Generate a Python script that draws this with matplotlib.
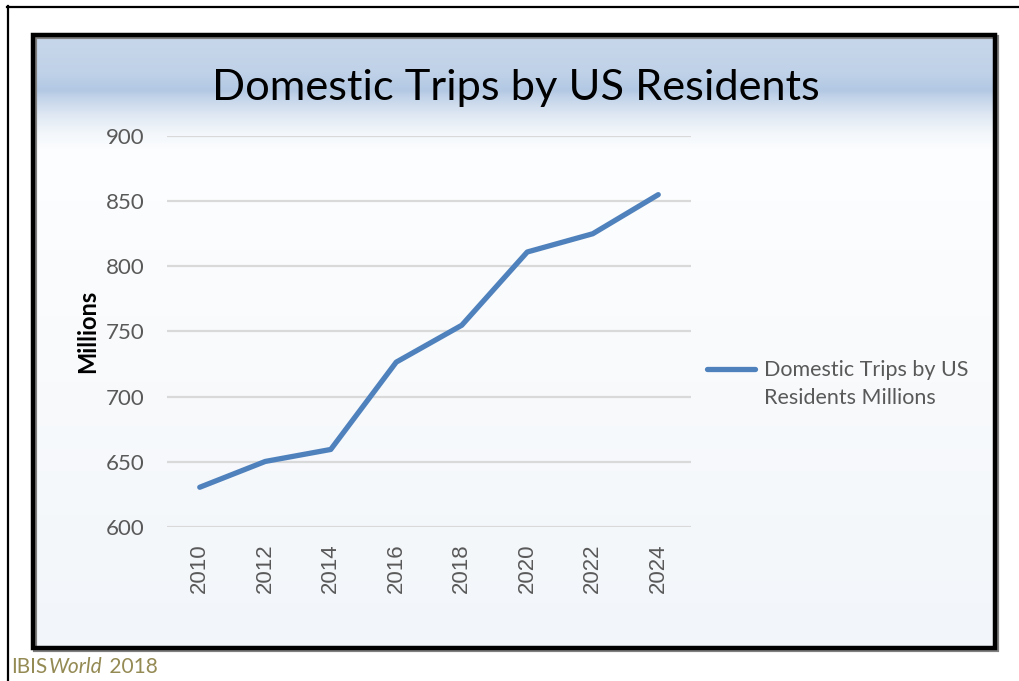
import matplotlib
matplotlib.use("Agg")
import matplotlib.pyplot as plt
import numpy as np
from matplotlib.patches import Rectangle
from matplotlib.lines import Line2D
from matplotlib.colors import to_rgb

years = [2010, 2012, 2014, 2016, 2018, 2020, 2022, 2024]
trips_millions = [630.5, 650.3, 659.5, 726.5, 754.8, 811.0, 825.0, 855.0]
y_ticks = [600, 650, 700, 750, 800, 850, 900]
title = "Domestic Trips by US Residents"
series_label = "Domestic Trips by US\nResidents Millions"

W, H = 1019, 681
fig = plt.figure(figsize=(W / 100, H / 100), dpi=100)
fig.patch.set_facecolor("white")

def fx(px):
    return px / W

def fy(py):
    return 1 - py / H

# outer page frame (top and left edges)
fig.add_artist(Line2D([fx(7), fx(1019)], [fy(6.5), fy(6.5)], color="black", lw=1.6))
fig.add_artist(Line2D([fx(7.5), fx(7.5)], [fy(6), fy(681)], color="black", lw=1.6))

# chart box with vertical gradient fill
bx0, bx1, by0, by1 = 33, 995, 35, 648
bg = fig.add_axes([fx(bx0), fy(by1), fx(bx1 - bx0), (by1 - by0) / H])
bg.set_axis_off()
stops = [(0.0, "#c8d7eb"), (0.06, "#c0d2e8"), (0.09, "#b2c8e3"), (0.10, "#c2d3e9"),
         (0.13, "#dfe8f3"), (0.16, "#f3f7fb"), (0.19, "#fdfeff"), (0.35, "#fbfcfd"),
         (1.0, "#f2f6fa")]
n = 600
t = np.linspace(0, 1, n)
pos = [s[0] for s in stops]
cols = np.array([to_rgb(s[1]) for s in stops])
grad = np.stack([np.interp(t, pos, cols[:, k]) for k in range(3)], axis=1)
img = np.repeat(grad[:, None, :], 4, axis=1)
bg.imshow(img, aspect="auto", extent=[0, 1, 0, 1], origin="upper", interpolation="bilinear")
bg.set_xlim(0, 1)
bg.set_ylim(0, 1)

# shadow + border
fig.add_artist(Rectangle((fx(bx0 + 2), fy(by1 + 2)), fx(bx1 - bx0), (by1 - by0) / H,
                         fill=False, ec="#808080", lw=3, zorder=5))
fig.add_artist(Rectangle((fx(bx0), fy(by1)), fx(bx1 - bx0), (by1 - by0) / H,
                         fill=False, ec="black", lw=3.2, zorder=6))

# plot area
px0, px1, py0, py1 = 167, 691, 136, 527
ax = fig.add_axes([fx(px0), fy(py1), fx(px1 - px0), (py1 - py0) / H])
ax.patch.set_alpha(0)
ax.plot(years, trips_millions, color="#4f81bd", lw=3.8, solid_capstyle="round",
        solid_joinstyle="round", zorder=3)
ax.set_xlim(years[0] - 1, years[-1] + 1)
ax.set_ylim(y_ticks[0], y_ticks[-1])
ax.set_yticks(y_ticks)
ax.set_xticks(years)
ax.set_xticklabels([str(y) for y in years], rotation=90, fontsize=16,
                   color="#595959", family="Liberation Sans")
ax.set_yticklabels([str(v) for v in y_ticks], fontsize=16, color="#595959", family="Lato")
ax.tick_params(axis="both", length=0)
ax.tick_params(axis="x", pad=12)
ax.tick_params(axis="y", pad=16)
for s in ax.spines.values():
    s.set_visible(False)
ax.yaxis.grid(True, color="#d9d9d9", lw=1.6)
ax.set_axisbelow(True)
ax.yaxis.set_label_coords(fx(88 - px0) / fx(px1 - px0), 0.5)
ax.set_ylabel("Millions", fontsize=17, fontweight="bold", color="black", family="Lato",
              va="center")

# title
fig.text(fx(516), fy(88), title, ha="center", va="center", fontsize=31.2,
         color="black", family="Lato")

# legend
fig.add_artist(Line2D([fx(707), fx(755)], [fy(369), fy(369)], color="#4f81bd", lw=3.8,
                      solid_capstyle="round"))
fig.text(fx(764), fy(383.5), series_label, ha="left", va="center", fontsize=15.5,
         color="#595959", family="Lato", linespacing=1.5)

# footer: "IBIS" + italic "World" + " 2018", laid out side by side
renderer = fig.canvas.get_renderer()
footer_parts = [("IBIS", "normal", 1), ("World", "italic", 2), ("\u00a02018", "normal", 0)]
x_cursor = 11
for txt, st, gap in footer_parts:
    t_art = fig.text(fx(x_cursor), fy(667), txt, ha="left", va="center", fontsize=15,
                     color="#948a54", family="Lato", style=st)
    bb = t_art.get_window_extent(renderer)
    x_cursor += bb.width + gap

fig.savefig("out.png", dpi=100)
